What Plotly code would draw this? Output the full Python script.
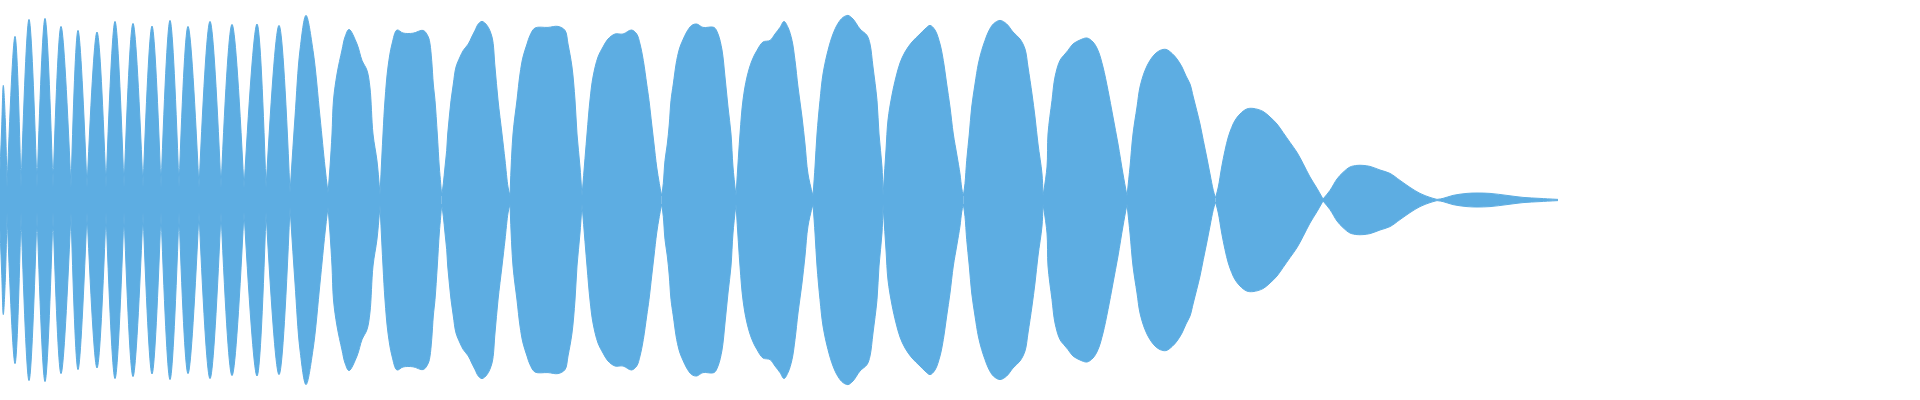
import plotly.graph_objects as go

COLOR = "#5DADE2"

# Envelope of the waveform: time in ms, amplitude in % of full scale
# Nodes (narrow waists between lobes)
node_t = [0, 7, 21, 37, 53, 71, 87, 106, 124, 143, 161, 179, 199, 221, 244, 266,
          290, 328, 380, 441.7, 510, 582, 661.7, 736, 813, 883, 963.3, 1043, 1127, 1215.5,
          1323, 1437, 1558]
node_amp = [15, 6, 6, 6, 6, 6, 6, 6, 6, 6, 6, 6, 6, 6, 5.8, 5.8,
            3.5, 3.5, 2.5, 2, 2, 2, 2, 2, 2, 2, 2, 2, 2, 1,
            0.5, 0.3, 0.3]

# Envelope points inside the lobes (time, amplitude)
env_t = [
    1.7, 3.3, 5.3,
    15, 29, 45, 61, 78, 97, 115, 133, 152, 170, 188, 210, 232, 257, 279,
    295, 300, 306, 313, 320, 325,
    330, 332, 333.5, 337, 342, 345, 349, 357, 362, 367, 370, 373, 377,
    383, 385, 388, 392, 397, 403, 413, 423.3, 428.3, 430, 431.7, 433.3, 435, 437.3, 439.3, 440.7,
    443.3, 445, 446.7, 447.7, 449.3, 451, 453.3, 456, 460, 463.3, 468.3, 471.7, 475, 478.3, 482, 487, 492, 495, 498, 502, 505, 508,
    513, 517, 520, 523, 527, 530, 535, 548, 558, 565, 568, 572, 575, 577, 580,
    587, 590, 593, 598, 603, 608, 615, 623, 631.5, 636.7, 640, 643.3, 646.7, 649, 651.7, 654, 656.7, 659.3,
    663.3, 665, 667.3, 669.3, 671, 673.3, 676.7, 680, 683.3, 686.7, 691.7, 696.7, 703, 714, 718, 722, 725, 728, 731, 733,
    740, 743, 747, 752, 757, 763, 770, 775, 780, 784, 788, 792, 795, 798, 802, 805, 808,
    815, 817, 820, 823, 828, 833, 838, 843, 848, 853, 860, 867, 870, 873, 877, 879, 882,
    886, 888, 892, 896, 900, 905, 912, 920, 925, 930, 935, 940, 943.3, 946.7, 950, 953.3, 956.7, 960, 961.7,
    965, 966.7, 969.3, 971.7, 975, 978.3, 981.7, 985, 988.3, 993.3, 1000, 1006.7, 1013, 1020, 1025, 1028, 1032, 1035, 1038, 1042,
    1047, 1048, 1052, 1055, 1060, 1065, 1068, 1073, 1080, 1087, 1093, 1098, 1103, 1108, 1113, 1118, 1123,
    1130, 1133, 1137, 1140, 1145, 1150, 1155, 1160, 1166, 1172, 1177, 1182, 1186, 1190, 1193.3, 1196.7, 1200, 1203.3, 1206.7, 1210, 1213.3,
    1218.3, 1221.7, 1225, 1228.3, 1231.7, 1235, 1240, 1246.7, 1253, 1263, 1270, 1277, 1283, 1290, 1297, 1303, 1310, 1317,
    1330, 1337, 1343, 1350, 1357, 1363, 1370, 1380, 1390, 1400, 1410, 1420, 1430,
    1443, 1453, 1467, 1477, 1490, 1507, 1523, 1540,
]
env_amp = [
    36.5, 57.3, 40,
    81.8, 90.3, 90.8, 86.8, 84.8, 84, 89.3, 88.3, 87, 89.8, 86.8, 89.3, 87.8, 88, 87.3,
    41.5, 75, 92.3, 74.8, 41.5, 16.5,
    16.5, 33, 50, 63, 75, 81.5, 85.3, 78, 69.8, 64.8, 56, 33, 19.5,
    33, 50, 66.5, 78, 85, 83.5, 83.4, 84.8, 81.5, 78, 69.8, 58, 49.8, 33, 16.5, 8.3,
    8.1, 16.5, 24.8, 33, 41.5, 49.8, 58, 66.5, 71.5, 74.8, 78, 81.5, 84.8, 88, 89.3, 87.3, 81.5, 66.5, 50, 33, 20, 6.5,
    33, 50, 63, 71.5, 78, 82.3, 86, 86.3, 86.8, 84.8, 78, 66.5, 50, 33, 16.5,
    33, 50, 61.5, 71.5, 76.5, 80.5, 83, 83, 85, 83, 78, 69.8, 58, 49.8, 38, 28, 16.5, 8.3,
    8.3, 19.8, 28, 38, 49.8, 58, 69.8, 76.5, 80.5, 84, 87.3, 88, 86.3, 86.3, 83, 75, 61.5, 46.5, 33, 16.5,
    33, 50, 61.5, 69.8, 74.8, 79, 79.8, 83, 86.3, 89.3, 86.3, 79.8, 69.8, 56.5, 41.5, 28, 13,
    16.5, 33, 49.8, 63, 74.8, 83, 88.3, 91.3, 92.3, 90.5, 85.5, 82.3, 78, 66.5, 49.8, 33, 16.5,
    25, 40, 52.5, 61.5, 68.5, 74, 79, 83, 85.5, 87.3, 85, 78, 69.8, 58, 46.5, 33, 23, 13, 6,
    8.3, 19.8, 33, 46.5, 58, 68, 74.8, 79.8, 84, 88, 89.8, 88, 84, 80.5, 75.5, 66.5, 53, 41.5, 28, 13,
    16.5, 33, 49.8, 61.5, 69.8, 73, 74.8, 78, 80, 81, 79, 74.8, 66.5, 54.8, 41.5, 28, 13,
    16.5, 33, 46.5, 56.5, 64.8, 69.8, 73, 74.8, 75.3, 73.3, 70.5, 66.5, 62, 58, 51.5, 44.8, 38, 29.8, 21.5, 13, 4.8,
    6.5, 16.5, 24.8, 31.5, 36.3, 39.8, 43, 45.5, 45.8, 44.3, 41.5, 38, 33.8, 28.8, 23.8, 18.3, 11.5, 5.8,
    4.8, 10.5, 13.8, 16.5, 17.3, 17.3, 16.8, 15, 13.3, 9.8, 6.3, 3.3, 1.3,
    0.8, 2.3, 3.3, 3.5, 3.3, 2.3, 1.3, 0.8,
]
assert len(env_t) == len(env_amp)
assert len(node_t) == len(node_amp)

fig = go.Figure()
for i in range(len(node_t) - 1):
    t0, t1 = node_t[i], node_t[i + 1]
    inner = [(t, a) for t, a in zip(env_t, env_amp) if t0 < t < t1]
    xs = [t0] + [p[0] for p in inner] + [t1]
    ys = [node_amp[i]] + [p[1] for p in inner] + [node_amp[i + 1]]
    for sign in (1, -1):
        fig.add_trace(go.Scatter(
            x=xs, y=[sign * v for v in ys],
            mode="lines",
            line=dict(color=COLOR, width=1, shape="spline", smoothing=1),
            fill="tozeroy", fillcolor=COLOR,
            hoverinfo="skip", showlegend=False,
        ))

fig.update_layout(
    width=1920, height=400,
    margin=dict(l=0, r=0, t=0, b=0),
    paper_bgcolor="white", plot_bgcolor="white",
    showlegend=False,
    xaxis=dict(visible=False, range=[0, 1920]),
    yaxis=dict(visible=False, range=[-100, 100]),
)

fig.write_html("out.html", config={"displayModeBar": False},
               post_script="document.body.style.margin='0';document.body.style.overflow='hidden';")
